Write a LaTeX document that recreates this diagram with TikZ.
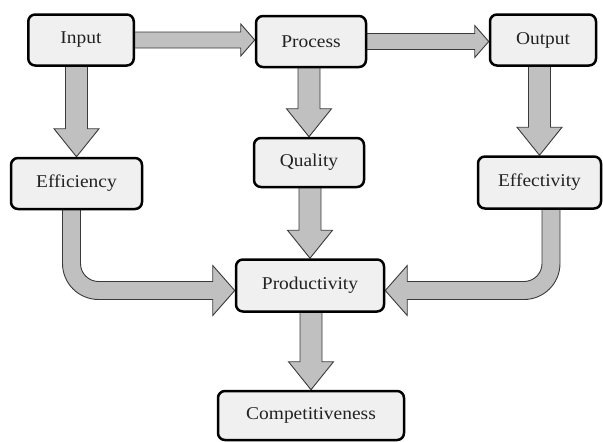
\documentclass[tikz,border=0pt]{standalone}
\usepackage{fontspec}
\setmainfont{Liberation Serif}[FakeStretch=1.08]
\usetikzlibrary{calc,backgrounds}
\definecolor{boxfill}{HTML}{F0F0F0}
\definecolor{arrfill}{HTML}{C0C0C0}
\definecolor{arrline}{HTML}{3A3A3A}
\definecolor{txt}{HTML}{222222}
\tikzset{
  box/.style={draw=black, fill=boxfill, line width=2.5pt, rounded corners=7pt,
    inner sep=0pt, text=txt, font=\fontsize{18}{21}\selectfont},
  blk/.style={draw=arrline, fill=arrfill, line width=0.9pt, line join=miter},
}
% vertical block arrow: src south -> dst north, at x of dst
\newcommand\vblk[2]{%
  \draw[blk] let \p1=(#1.south), \p2=(#2.north) in
   (\x2-11pt,\y1+8pt) -- (\x2-11pt,\y2+28pt) -- (\x2-22.5pt,\y2+28pt) -- (\x2,\y2)
   -- (\x2+22.5pt,\y2+28pt) -- (\x2+11pt,\y2+28pt) -- (\x2+11pt,\y1+8pt) -- cycle;}
% horizontal block arrow: src east -> dst west, at y of src
\newcommand\hblk[2]{%
  \draw[blk] let \p1=(#1.east), \p2=(#2.west) in
   (\x1-8pt,\y1+8pt) -- (\x2-14pt,\y1+8pt) -- (\x2-14pt,\y1+16pt) -- (\x2,\y1)
   -- (\x2-14pt,\y1-16pt) -- (\x2-14pt,\y1-8pt) -- (\x1-8pt,\y1-8pt) -- cycle;}
\begin{document}
\begin{tikzpicture}[x=1pt,y=-1pt]
\useasboundingbox (0,0) rectangle (603,442);
\node[box, minimum width=105.5, minimum height=51] (in) at (81,40) {Input};
\node[box, minimum width=110, minimum height=51] (proc) at (311,41.5) {Process};
\node[box, minimum width=106, minimum height=51] (out) at (543,40) {Output};
\node[box, minimum width=131, minimum height=51] (eff) at (76.5,183.5) {Efficiency};
\node[box, minimum width=110, minimum height=49] (qual) at (309,162.5) {Quality};
\node[box, minimum width=123, minimum height=52] (efv) at (539.5,182.5) {Effectivity};
\node[box, minimum width=148, minimum height=52] (prod) at (310,285.5) {Productivity};
\node[box, minimum width=186, minimum height=49] (comp) at (311,415.5) {Competitiveness};
\begin{pgfonlayer}{background}
\hblk{in}{proc}
\hblk{proc}{out}
\vblk{in}{eff}
\vblk{proc}{qual}
\vblk{out}{efv}
\vblk{qual}{prod}
\vblk{prod}{comp}
% curved: Efficiency -> Productivity
\draw[blk] let \p1=(eff.south), \p2=(prod.west) in
  (\x1-14pt,\y1+8pt) [rounded corners=36pt] -- (\x1-14pt,\y2-14pt) [sharp corners]
  -- (\x2-22pt,\y2-14pt) -- (\x2-22pt,\y2-30pt) -- (\x2,\y2-5pt) -- (\x2-22pt,\y2+20pt)
  -- (\x2-22pt,\y2+4pt) [rounded corners=18pt] -- (\x1+4pt,\y2+4pt) [sharp corners]
  -- (\x1+4pt,\y1+8pt) -- cycle;
% curved: Effectivity -> Productivity
\draw[blk] let \p1=(efv.south), \p2=(prod.east) in
  (\x1+20.5pt,\y1+8pt) [rounded corners=36pt] -- (\x1+20.5pt,\y2-14pt) [sharp corners]
  -- (\x2+22pt,\y2-14pt) -- (\x2+22pt,\y2-30pt) -- (\x2,\y2-5pt) -- (\x2+22pt,\y2+20pt)
  -- (\x2+22pt,\y2+4pt) [rounded corners=18pt] -- (\x1+2.5pt,\y2+4pt) [sharp corners]
  -- (\x1+2.5pt,\y1+8pt) -- cycle;
\end{pgfonlayer}
\end{tikzpicture}
\end{document}
